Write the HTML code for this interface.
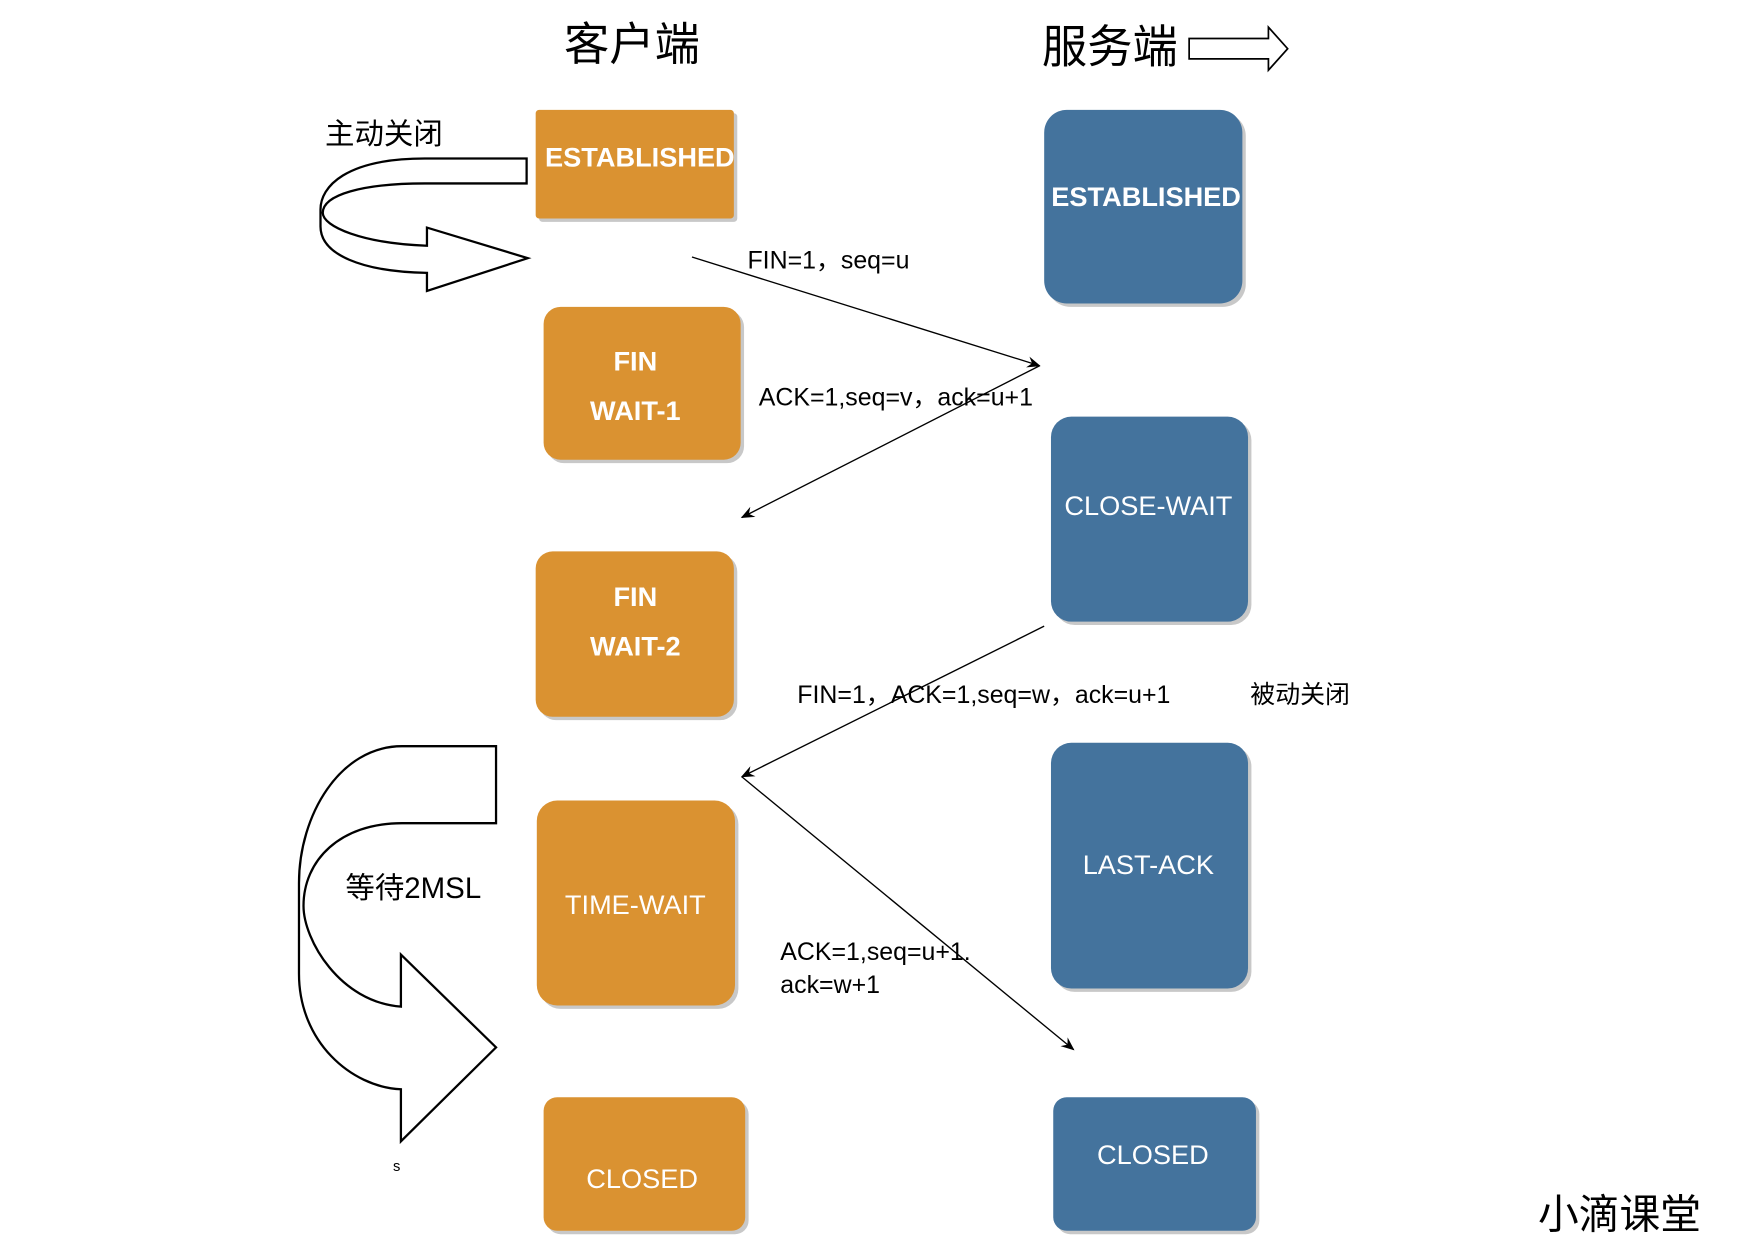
<!DOCTYPE html>
<html><head><meta charset="utf-8"><style>html,body{margin:0;padding:0;background:#fff}svg{display:block}</style></head><body>
<svg width="1752" height="1241" viewBox="0 0 1547 1096" preserveAspectRatio="none" xmlns="http://www.w3.org/2000/svg" font-family="Liberation Sans, Noto Sans CJK SC, sans-serif">
<defs><marker id="a" markerWidth="12" markerHeight="10" refX="11" refY="5" orient="auto" markerUnits="userSpaceOnUse"><path d="M0,0 L12,5 L0,10 L4,5 Z" fill="#000"/></marker></defs>
<g fill="#c8c8c8">
<rect x="476" y="100" width="175" height="96" rx="3"/>
<rect x="925" y="100" width="175" height="171" rx="20"/>
<rect x="483" y="274" width="174" height="135" rx="15"/>
<rect x="476" y="490" width="175" height="146" rx="15"/>
<rect x="477" y="710" width="175" height="181" rx="18"/>
<rect x="483" y="972" width="178" height="118" rx="12"/>
<rect x="931" y="371" width="174" height="181" rx="18"/>
<rect x="931" y="659" width="174" height="217" rx="18"/>
<rect x="933" y="972" width="179" height="118" rx="12"/>
</g>
<g fill="#DA9231">
<rect x="473" y="97" width="175" height="96" rx="3"/>
<rect x="480" y="271" width="174" height="135" rx="15"/>
<rect x="473" y="487" width="175" height="146" rx="15"/>
<rect x="474" y="707" width="175" height="181" rx="18"/>
<rect x="480" y="969" width="178" height="118" rx="12"/>
</g>
<g fill="#44739D">
<rect x="922" y="97" width="175" height="171" rx="20"/>
<rect x="928" y="368" width="174" height="181" rx="18"/>
<rect x="928" y="656" width="174" height="217" rx="18"/>
<rect x="930" y="969" width="179" height="118" rx="12"/>
</g>
<g fill="#fff" font-size="24" text-anchor="middle">
<text x="565" y="147" font-weight="bold">ESTABLISHED</text>
<text x="1012" y="182" font-weight="bold">ESTABLISHED</text>
<text x="561" y="327" font-weight="bold">FIN</text>
<text x="561" y="371" font-weight="bold">WAIT-1</text>
<text x="561" y="535" font-weight="bold">FIN</text>
<text x="561" y="579" font-weight="bold">WAIT-2</text>
<text x="561" y="807">TIME-WAIT</text>
<text x="567" y="1049">CLOSED</text>
<text x="1014" y="455">CLOSE-WAIT</text>
<text x="1014" y="772">LAST-ACK</text>
<text x="1018" y="1028">CLOSED</text>
</g>
<g font-size="40" text-anchor="middle"><text x="558" y="53">客户端</text><text x="980" y="55">服务端</text></g>
<path d="M1050,34 L1120,34 L1120,24 L1137,43 L1120,62 L1120,52 L1050,52 Z" fill="none" stroke="#000" stroke-width="1.5"/>
<g stroke="#000" stroke-width="1.2" fill="none" marker-end="url(#a)">
<line x1="611" y1="227" x2="918" y2="323"/>
<line x1="918" y1="323" x2="655" y2="457"/>
<line x1="922" y1="553" x2="655" y2="686"/>
<line x1="655" y1="686" x2="948" y2="927"/>
</g>
<g font-size="22">
<text x="660" y="237">FIN=1，seq=u</text>
<text x="670" y="358">ACK=1,seq=v，ack=u+1</text>
<text x="704" y="621">FIN=1，ACK=1,seq=w，ack=u+1</text>
<text x="1104" y="621">被动关闭</text>
<text x="689" y="848">ACK=1,seq=u+1.</text>
<text x="689" y="877">ack=w+1</text>
</g>
<text x="287" y="127" font-size="26">主动关闭</text>
<text x="305" y="793" font-size="26">等待2MSL</text>
<text x="347" y="1034" font-size="13">s</text>
<text x="1358" y="1085" font-size="36">小滴课堂</text>
<path d="M465,140 L375,140 C305,140 283,165 283,185 L283,200 C283,225 320,240 377,241 L377,257 L466,228 L377,201 L377,217 C320,215 285,200 285,188 C285,172 320,162 375,162 L465,162 Z" fill="none" stroke="#000" stroke-width="2"/>
<path d="M438,659 L355,659 C300,659 264,720 264,780 L264,860 C264,920 310,960 354,962 L354,1008 L438,925 L354,843 L354,889 C300,885 268,830 268,800 C268,760 300,727 355,727 L438,727 Z" fill="none" stroke="#000" stroke-width="2"/>
</svg>
</body></html>
